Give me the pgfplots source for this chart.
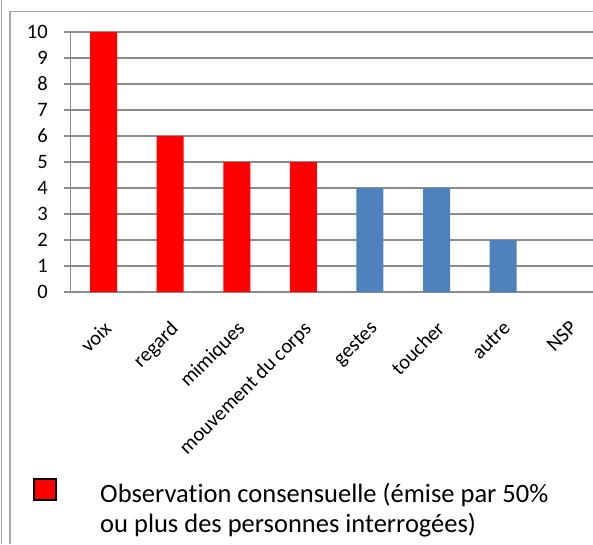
\documentclass[border=0pt]{standalone}
\usepackage{pgfplots}
\pgfplotsset{compat=1.18}
\usepackage{fontspec}
\setmainfont{Carlito}[Ligatures=NoCommon]
\definecolor{gridc}{HTML}{8C8C8C}
\definecolor{framec}{HTML}{A6A6A6}
\definecolor{bblue}{HTML}{4F81BD}
\definecolor{bred}{HTML}{FF0000}
\begin{document}
\begin{tikzpicture}
\path[use as bounding box] (0pt,0pt) rectangle (593pt,-544pt);
\draw[framec, line width=1.5pt] (1.5pt,0pt) -- (1.5pt,-544pt);
\draw[framec, line width=1.5pt] (9.8pt,-544pt) -- (9.8pt,-11.5pt) -- (593pt,-11.5pt);
\begin{axis}[
  at={(70.3pt,-292pt)}, anchor=south west,
  scale only axis, width=522.7pt, height=260pt,
  xmin=-0.5, xmax=7.35, ymin=0, ymax=10,
  axis x line*=bottom, axis y line*=left,
  axis line style={gridc, line width=1.5pt},
  ybar, bar width=27pt,
  ytick={0,1,...,10},
  ymajorgrids, grid style={gridc, line width=1.5pt},
  tick align=outside,
  major tick length=6pt,
  tick style={gridc, line width=1.5pt},
  /pgf/number format/assume math mode=true,
  xtick={0,1,...,7},
  xticklabels={voix,regard,mimiques,mouvement du corps,gestes,toucher,autre,NSP},
  x tick style={draw=none},
  extra x ticks={-0.5,0.5,1.5,2.5,3.5,4.5,5.5,6.5},
  extra x tick labels={},
  extra x tick style={tick style={gridc, line width=1.5pt, draw=gridc}, major tick length=6pt},
  xticklabel style={xshift=-1pt, yshift=-17pt, rotate=45, anchor=north east, font=\fontsize{20.5}{24}\selectfont},
  yticklabel style={font=\fontsize{20.5}{24}\selectfont, xshift=-13pt},
  legend style={at={(-0.0713,-0.7154)}, anchor=north west, draw=none, fill=none,
    inner sep=0pt, font=\fontsize{26.5}{30}\selectfont,
    /tikz/every odd column/.append style={column sep=41pt}},
  legend image code/.code={\draw[fill=bred, draw=black, line width=2pt] (1pt,-7pt) rectangle (23pt,14pt);},
  clip=true,
]
\addplot[fill=bred, draw=none, bar shift=0pt] coordinates {(0,10) (1,6) (2,5) (3,5)};
\addlegendentry{\parbox[t]{470pt}{\strut Observation consensuelle (émise par 50\%\\ou plus des personnes interrogées)}}
\addplot[fill=bblue, draw=none, bar shift=0pt, forget plot] coordinates {(4,4) (5,4) (6,2) (7,0)};
\end{axis}
\end{tikzpicture}
\end{document}
